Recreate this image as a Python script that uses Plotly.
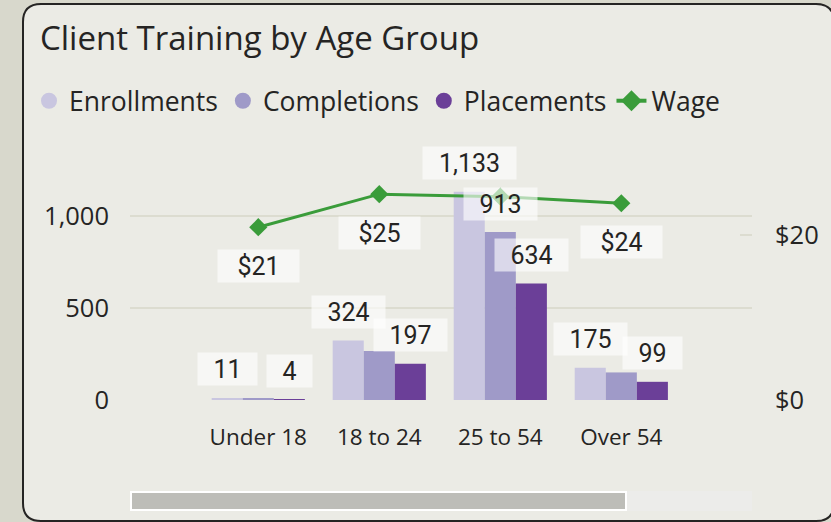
import plotly.graph_objects as go

# ---- data ----
categories = ["Under 18", "18 to 24", "25 to 54", "Over 54"]
enrollments = [11, 324, 1133, 175]
completions = [9, 266, 913, 150]
placements = [4, 197, 634, 99]
wage = [20.9, 24.9, 24.6, 23.8]

# which data labels are visible in the reference (others hidden by overlap)
enroll_show = [True, True, True, True]
compl_show = [False, False, True, False]
place_show = [True, True, True, True]
wage_show = [True, True, False, True]

left_ticks = [0, 500, 1000]
left_ticktext = ["0", "500", "1,000"]
right_ticks = [0, 20]
right_ticktext = ["$0", "$20"]

# ---- style ----
C_ENR = "#c9c6e0"
C_CMP = "#9f9ac8"
C_PLC = "#6b3f98"
C_WAGE = "#3a9c3a"
TXT = "#252423"
FONT = "Open Sans"
LBL_FONT = "Roboto"

W, H = 831, 522
ML, MR, MT, MB = 130, 79, 140, 122
PW, PH = W - ML - MR, H - MT - MB

def px(x):
    return (x - ML) / PW

def py(y):
    return (H - MB - y) / PH

fig = go.Figure()

series = [("Enrollments", enrollments, C_ENR), ("Completions", completions, C_CMP),
          ("Placements", placements, C_PLC)]
for name, vals, col in series:
    fig.add_trace(go.Bar(x=categories, y=vals, name=name, marker_color=col,
                         marker_line_width=0, showlegend=False))

fig.add_trace(go.Scatter(x=categories, y=wage, name="Wage", yaxis="y2", mode="lines+markers",
                         line=dict(color=C_WAGE, width=3),
                         marker=dict(symbol="diamond", size=14, color=C_WAGE),
                         showlegend=False))

# legend entries (circle markers like the reference)
for name, vals, col in series:
    fig.add_trace(go.Scatter(x=[None], y=[None], mode="markers", name=name,
                             marker=dict(symbol="circle", size=17, color=col)))
fig.add_trace(go.Scatter(x=[None], y=[None], mode="lines+markers", name="Wage",
                         line=dict(color=C_WAGE, width=4),
                         marker=dict(symbol="diamond", size=16, color=C_WAGE)))

# ---- data labels ----
BARGAP = 0.23
bw = (1 - BARGAP) / 3
offsets = [-bw, 0, bw]

def box_width(text, extra=0):
    digits = sum(ch.isdigit() for ch in text)
    other = len(text) - digits
    return 31 + 14 * digits + 6 * other + extra

LBL_BG = "rgba(255,255,255,0.62)"
annotations = []
for (name, vals, col), off, show in zip(series, offsets, [enroll_show, compl_show, place_show]):
    for i, v in enumerate(vals):
        if not show[i]:
            continue
        t = f"{v:,}"
        annotations.append(dict(x=i + off, y=v, xref="x", yref="y", text=t, showarrow=False,
                                yshift=28.5, yanchor="middle", xanchor="center",
                                width=box_width(t), height=32, borderpad=0,
                                bgcolor=LBL_BG,
                                font=dict(family=LBL_FONT, size=25, color=TXT)))
for i, v in enumerate(wage):
    if not wage_show[i]:
        continue
    t = f"${v:.0f}"
    annotations.append(dict(x=i, y=v, xref="x", yref="y2", text=t, showarrow=False,
                            yshift=-38.5, yanchor="middle", xanchor="center",
                            width=box_width(t, 8) + 8, height=32, borderpad=0,
                            bgcolor=LBL_BG,
                            font=dict(family=LBL_FONT, size=25, color=TXT)))

# ---- card + scrollbar decorations ----
def rrect(x0, y0, x1, y1, r):
    X0, X1 = px(x0), px(x1)
    Y0, Y1 = py(y0), py(y1)
    rx, ry = r / PW, r / PH
    return (f"M {X0+rx},{Y0} L {X1-rx},{Y0} Q {X1},{Y0} {X1},{Y0-ry} "
            f"L {X1},{Y1+ry} Q {X1},{Y1} {X1-rx},{Y1} L {X0+rx},{Y1} "
            f"Q {X0},{Y1} {X0},{Y1+ry} L {X0},{Y0-ry} Q {X0},{Y0} {X0+rx},{Y0} Z")

shapes = [
    dict(type="path", xref="paper", yref="paper", path=rrect(23, 4, 834, 521, 18),
         fillcolor="#ebebe5", line=dict(color="#252423", width=2), layer="below"),
    dict(type="rect", xref="paper", yref="paper", x0=px(130), x1=px(752), y0=py(491), y1=py(511),
         fillcolor="#ececea", line=dict(width=0), layer="below"),
    dict(type="rect", xref="paper", yref="paper", x0=px(131), x1=px(626), y0=py(492), y1=py(510),
         fillcolor="#bdbdb8", line=dict(color="#ffffff", width=2), layer="below"),
]

fig.update_layout(
    width=W, height=H,
    margin=dict(l=ML, r=MR, t=MT, b=MB),
    paper_bgcolor="#d8d8cc",
    plot_bgcolor="rgba(0,0,0,0)",
    barmode="group", bargap=BARGAP, bargroupgap=0,
    font=dict(family=FONT, color=TXT),
    title=dict(text="Client Training by Age Group", x=40 / W, xanchor="left",
               y=1 - 38 / H, yanchor="middle",
               font=dict(family=FONT, size=33, color=TXT)),
    legend=dict(orientation="h", x=px(29), xanchor="left", y=py(101), yanchor="middle",
                font=dict(family=FONT, size=26.5, color=TXT), bgcolor="rgba(0,0,0,0)",
                itemclick=False, itemdoubleclick=False),
    xaxis=dict(type="category", range=[-1.06, 4.08], showgrid=False, zeroline=False,
               showline=False, ticks="", tickfont=dict(family=FONT, size=22.5, color=TXT),
               ticklabelstandoff=21, fixedrange=True),
    yaxis=dict(range=[0, 1414], tickvals=left_ticks, ticktext=left_ticktext,
               showgrid=True, gridcolor="#dcdcd0", gridwidth=2, zeroline=False,
               showline=False, ticks="", tickfont=dict(family=FONT, size=25.5, color=TXT),
               ticklabelstandoff=20, fixedrange=True),
    yaxis2=dict(range=[0, 31.45], overlaying="y", side="right", tickvals=right_ticks,
                ticktext=right_ticktext, showgrid=False, zeroline=False, showline=False,
                ticks="inside", ticklen=12, tickcolor="#dcdcd0", tickwidth=2,
                tickfont=dict(family=FONT, size=25.5, color=TXT), ticklabelstandoff=22,
                fixedrange=True),
    annotations=annotations,
    shapes=shapes,
    hovermode=False,
)

fig.write_html("out.html", config={"displayModeBar": False},
               post_script="document.body.style.margin='0';document.body.style.overflow='hidden';")
